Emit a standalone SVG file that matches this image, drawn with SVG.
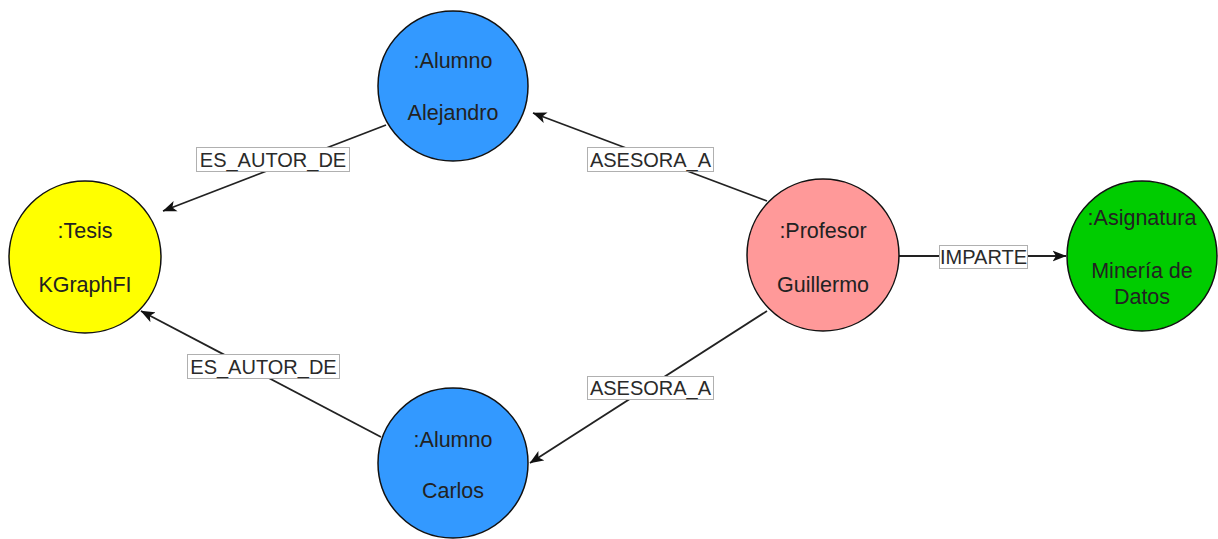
<svg xmlns="http://www.w3.org/2000/svg" width="1218" height="539" viewBox="0 0 1218 539">
  <style>
    .node { stroke: #111; stroke-width: 1.5; }
    .ntext { font-family: "Liberation Sans", Arial, sans-serif; font-size: 21.5px; fill: #222; text-anchor: middle; }
    .edge { stroke: #222; stroke-width: 1.8; fill: none; }
    .lbox { fill: #fff; stroke: #b0b0b0; stroke-width: 1; }
    .ltext { font-family: "Liberation Sans", Arial, sans-serif; font-size: 20px; fill: #2a2a2a; text-anchor: middle; }
  </style>
  <defs>
    <marker id="arrow" viewBox="0 0 14 12" refX="13.5" refY="6" markerWidth="14" markerHeight="12" markerUnits="userSpaceOnUse" orient="auto">
      <path d="M0,0.5 L14,6 L0,11.5 L3.5,6 Z" fill="#111"/>
    </marker>
  </defs>
  <rect width="1218" height="539" fill="#fff"/>

  <!-- relationships -->
  <g id="connectors">
    <line class="edge" x1="386" y1="125" x2="163" y2="211" marker-end="url(#arrow)"/>
    <line class="edge" x1="381" y1="437" x2="141" y2="311" marker-end="url(#arrow)"/>
    <line class="edge" x1="767" y1="201" x2="533" y2="113" marker-end="url(#arrow)"/>
    <line class="edge" x1="767" y1="311" x2="530" y2="463" marker-end="url(#arrow)"/>
    <line class="edge" x1="899" y1="256" x2="1066" y2="256" marker-end="url(#arrow)"/>

    <g id="label-autor-1">
      <rect class="lbox" x="196.5" y="147.5" width="153" height="24"/>
      <text class="ltext" x="273" y="166.5">ES_AUTOR_DE</text>
    </g>
    <g id="label-autor-2">
      <rect class="lbox" x="187.5" y="354.5" width="152" height="24"/>
      <text class="ltext" x="263.5" y="373.5">ES_AUTOR_DE</text>
    </g>
    <g id="label-asesora-1">
      <rect class="lbox" x="587.5" y="147.5" width="126" height="24"/>
      <text class="ltext" x="650.5" y="166.5">ASESORA_A</text>
    </g>
    <g id="label-asesora-2">
      <rect class="lbox" x="587.5" y="376.5" width="126" height="23"/>
      <text class="ltext" x="650.5" y="395">ASESORA_A</text>
    </g>
    <g id="label-imparte">
      <rect class="lbox" x="939.5" y="245.5" width="88" height="23"/>
      <text class="ltext" x="983.5" y="264">IMPARTE</text>
    </g>
  </g>

  <g id="alumno-alejandro">
    <circle class="node" cx="453" cy="86" r="75" fill="#3399ff"/>
    <text class="ntext" x="453" y="68">:Alumno</text>
    <text class="ntext" x="453" y="120">Alejandro</text>
  </g>

  <g id="tesis-kgraphfi">
    <circle class="node" cx="85" cy="257" r="76" fill="#ffff00"/>
    <text class="ntext" x="85" y="238">:Tesis</text>
    <text class="ntext" x="85" y="292">KGraphFI</text>
  </g>

  <g id="profesor-guillermo">
    <circle class="node" cx="823" cy="255" r="76" fill="#ff9999"/>
    <text class="ntext" x="823" y="238">:Profesor</text>
    <text class="ntext" x="823" y="292">Guillermo</text>
  </g>

  <g id="asignatura-mineria">
    <circle class="node" cx="1142" cy="256" r="75" fill="#00cc00"/>
    <text class="ntext" x="1142" y="225">:Asignatura</text>
    <text class="ntext" x="1142" y="278">Minería de</text>
    <text class="ntext" x="1142" y="304">Datos</text>
  </g>

  <g id="alumno-carlos">
    <circle class="node" cx="453" cy="463" r="75" fill="#3399ff"/>
    <text class="ntext" x="453" y="447">:Alumno</text>
    <text class="ntext" x="453" y="498">Carlos</text>
  </g>
</svg>
